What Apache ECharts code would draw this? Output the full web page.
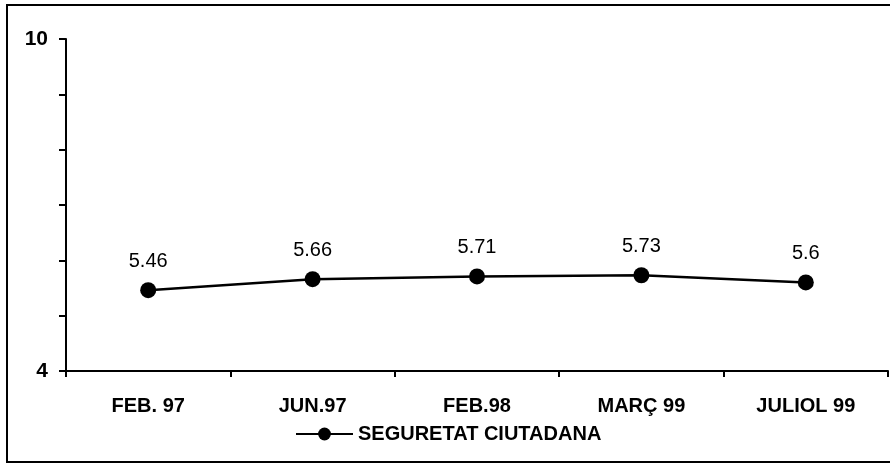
<!DOCTYPE html>
<html>
<head>
<meta charset="utf-8">
<script src="https://cdn.jsdelivr.net/npm/echarts@6/dist/echarts.min.js"></script>
<style>
  html, body { margin: 0; padding: 0; background: #fff; }
  #myChart { width: 890px; height: 465px; }
</style>
</head>
<body>
<div id="myChart"></div>
<script>
// dades
const periodes = ['FEB. 97', 'JUN.97', 'FEB.98', 'MARÇ 99', 'JULIOL 99']
const seguretat = [5.46, 5.66, 5.71, 5.73, 5.6]
const yMin = 4
const yMax = 10

const myChart = echarts.init(document.getElementById('myChart'))
myChart.setOption({
  animation: false,
  textStyle: { fontFamily: 'Liberation Sans, Arial, sans-serif', color: '#000' },
  graphic: [
    {
      type: 'rect',
      shape: { x: 7, y: 5, width: 900, height: 457 },
      style: { fill: 'none', stroke: '#000', lineWidth: 2 },
      silent: true
    }
  ],
  grid: {
    left: 66,
    right: 2,
    top: 39,
    bottom: 94
  },
  legend: {
    left: 290,
    top: 419,
    itemWidth: 57,
    itemHeight: 16,
    itemGap: 4,
    textStyle: { fontSize: 20, fontWeight: 'bold', color: '#000' },
    data: ['SEGURETAT CIUTADANA']
  },
  xAxis: {
    type: 'category',
    data: periodes,
    boundaryGap: true,
    axisLine: { lineStyle: { color: '#000', width: 2 } },
    axisTick: { show: true, length: 6, lineStyle: { color: '#000', width: 2 } },
    axisLabel: { margin: 25, fontSize: 20, fontWeight: 'bold', color: '#000' },
    splitLine: { show: false }
  },
  yAxis: {
    type: 'value',
    min: yMin,
    max: yMax,
    interval: 1,
    axisLine: { show: true, lineStyle: { color: '#000', width: 2 } },
    axisTick: { show: true, length: 7, lineStyle: { color: '#000', width: 2 } },
    axisLabel: {
      margin: 18,
      fontSize: 21,
      fontWeight: 'bold',
      color: '#000',
      formatter: function (v) {
        return (v === yMin || v === yMax) ? String(v) : ''
      }
    },
    splitLine: { show: false }
  },
  series: [
    {
      name: 'SEGURETAT CIUTADANA',
      type: 'line',
      data: seguretat,
      symbol: 'circle',
      symbolSize: 16,
      lineStyle: { color: '#000', width: 2.5 },
      itemStyle: { color: '#000' },
      label: {
        show: true,
        position: 'top',
        distance: 11,
        fontSize: 20,
        color: '#000'
      }
    }
  ]
})
</script>
</body>
</html>
